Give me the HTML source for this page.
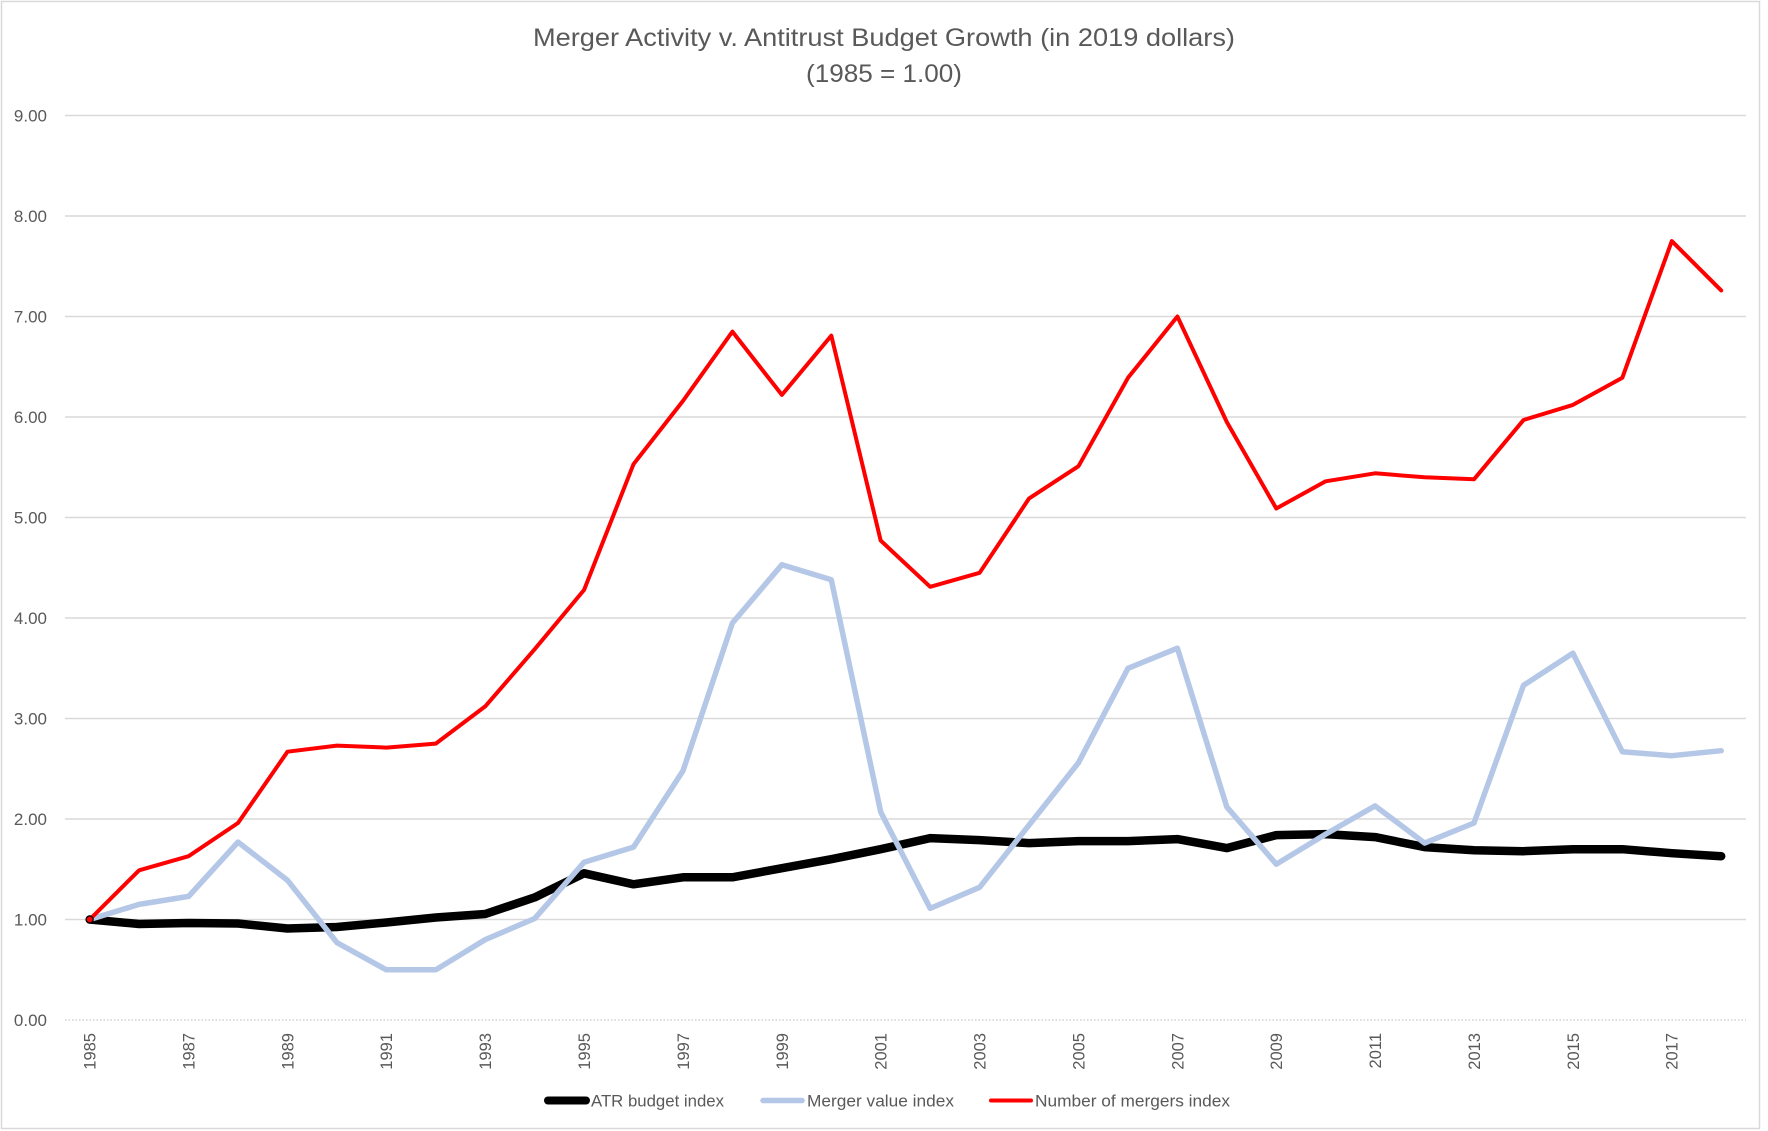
<!DOCTYPE html>
<html>
<head>
<meta charset="utf-8">
<style>
html,body{margin:0;padding:0;background:#fff;}
svg{display:block;}
text{font-family:"Liberation Sans",sans-serif;fill:#595959;}
</style>
</head>
<body>
<svg width="1768" height="1131" viewBox="0 0 1768 1131" xmlns="http://www.w3.org/2000/svg">
<rect x="0" y="0" width="1768" height="1131" fill="#fff"/>
<rect x="1.5" y="1.5" width="1758" height="1127" fill="#fff" stroke="#d9d9d9" stroke-width="1.5"/>

<text x="884" y="46" font-size="25" text-anchor="middle" textLength="702" lengthAdjust="spacingAndGlyphs">Merger Activity v. Antitrust Budget Growth (in 2019 dollars)</text>
<text x="884" y="82" font-size="25" text-anchor="middle" textLength="156" lengthAdjust="spacingAndGlyphs">(1985 = 1.00)</text>

<g stroke="#d9d9d9" stroke-width="1.5">
<line x1="65" y1="115.5" x2="1746" y2="115.5"/>
<line x1="65" y1="216" x2="1746" y2="216"/>
<line x1="65" y1="316.5" x2="1746" y2="316.5"/>
<line x1="65" y1="417" x2="1746" y2="417"/>
<line x1="65" y1="517.5" x2="1746" y2="517.5"/>
<line x1="65" y1="618" x2="1746" y2="618"/>
<line x1="65" y1="718.5" x2="1746" y2="718.5"/>
<line x1="65" y1="819" x2="1746" y2="819"/>
<line x1="65" y1="919.5" x2="1746" y2="919.5"/>
</g>
<line x1="65" y1="1020" x2="1746" y2="1020" stroke="#d0d0d0" stroke-width="1.5" stroke-dasharray="1.5,2"/>

<g font-size="17" text-anchor="end">
<text x="47" y="121.5">9.00</text>
<text x="47" y="222">8.00</text>
<text x="47" y="322.5">7.00</text>
<text x="47" y="423">6.00</text>
<text x="47" y="523.5">5.00</text>
<text x="47" y="624">4.00</text>
<text x="47" y="724.5">3.00</text>
<text x="47" y="825">2.00</text>
<text x="47" y="925.5">1.00</text>
<text x="47" y="1026">0.00</text>
</g>

<g font-size="16.5" text-anchor="end">
<text transform="translate(95.6,1033) rotate(-90)">1985</text>
<text transform="translate(194.5,1033) rotate(-90)">1987</text>
<text transform="translate(293.4,1033) rotate(-90)">1989</text>
<text transform="translate(392.2,1033) rotate(-90)">1991</text>
<text transform="translate(491.1,1033) rotate(-90)">1993</text>
<text transform="translate(590,1033) rotate(-90)">1995</text>
<text transform="translate(688.9,1033) rotate(-90)">1997</text>
<text transform="translate(787.8,1033) rotate(-90)">1999</text>
<text transform="translate(886.6,1033) rotate(-90)">2001</text>
<text transform="translate(985.5,1033) rotate(-90)">2003</text>
<text transform="translate(1084.4,1033) rotate(-90)">2005</text>
<text transform="translate(1183.3,1033) rotate(-90)">2007</text>
<text transform="translate(1282.2,1033) rotate(-90)">2009</text>
<text transform="translate(1381,1033) rotate(-90)">2011</text>
<text transform="translate(1479.9,1033) rotate(-90)">2013</text>
<text transform="translate(1578.8,1033) rotate(-90)">2015</text>
<text transform="translate(1677.7,1033) rotate(-90)">2017</text>
</g>

<polyline fill="none" stroke="#000" stroke-width="8.5" stroke-linejoin="round" stroke-linecap="round"
points="89.7,919.5 139.1,924.0 188.6,923.0 238.0,923.5 287.5,928.5 336.9,927.0 386.3,922.5 435.8,917.5 485.2,914.0 534.7,897.4 584.1,873.3 633.5,884.3 683.0,877.3 732.4,877.3 781.9,868.2 831.3,859.2 880.7,849.2 930.2,838.1 979.6,840.1 1029.1,843.1 1078.5,841.1 1128.0,841.1 1177.4,839.1 1226.8,848.1 1276.3,835.1 1325.7,834.1 1375.1,837.1 1424.6,847.1 1474.0,850.2 1523.5,851.2 1572.9,849.2 1622.3,849.2 1671.8,853.2 1721.2,856.2"/>

<polyline fill="none" stroke="#b4c7e7" stroke-width="5.5" stroke-linejoin="round" stroke-linecap="round"
points="89.7,919.5 139.1,904.4 188.6,896.4 238.0,842.1 287.5,880.3 336.9,942.6 386.3,969.8 435.8,969.8 485.2,939.6 534.7,918.5 584.1,862.2 633.5,847.1 683.0,770.8 732.4,623.0 781.9,564.7 831.3,579.8 880.7,812.0 930.2,908.4 979.6,887.3 1029.1,825.0 1078.5,762.7 1128.0,668.3 1177.4,648.2 1226.8,806.9 1276.3,864.2 1325.7,834.1 1375.1,805.9 1424.6,843.1 1474.0,823.0 1523.5,685.3 1572.9,653.2 1622.3,751.7 1671.8,755.7 1721.2,750.7"/>

<polyline fill="none" stroke="#ff0000" stroke-width="4" stroke-linejoin="round" stroke-linecap="round"
points="89.7,919.5 139.1,870.3 188.6,856.2 238.0,823.0 287.5,751.7 336.9,745.6 386.3,747.6 435.8,743.6 485.2,706.4 534.7,649.2 584.1,589.9 633.5,464.2 683.0,400.9 732.4,331.6 781.9,394.9 831.3,335.6 880.7,540.6 930.2,586.8 979.6,572.8 1029.1,498.4 1078.5,466.2 1128.0,377.8 1177.4,316.5 1226.8,422.0 1276.3,508.5 1325.7,481.3 1375.1,473.3 1424.6,477.3 1474.0,479.3 1523.5,420.0 1572.9,404.9 1622.3,377.8 1671.8,241.1 1721.2,290.4"/>
<circle cx="89.7" cy="919.5" r="3.5" fill="#ff0000" stroke="#000" stroke-width="1.2"/>

<g stroke-linecap="round">
<line x1="548" y1="1100.5" x2="586" y2="1100.5" stroke="#000" stroke-width="8"/>
<line x1="763" y1="1100.5" x2="802" y2="1100.5" stroke="#b4c7e7" stroke-width="5.5"/>
<line x1="991" y1="1100.5" x2="1031" y2="1100.5" stroke="#ff0000" stroke-width="4"/>
</g>
<g font-size="17">
<text x="591" y="1106.5" textLength="133" lengthAdjust="spacingAndGlyphs">ATR budget index</text>
<text x="807" y="1106.5" textLength="147" lengthAdjust="spacingAndGlyphs">Merger value index</text>
<text x="1035" y="1106.5" textLength="195" lengthAdjust="spacingAndGlyphs">Number of mergers index</text>
</g>
</svg>
</body>
</html>
